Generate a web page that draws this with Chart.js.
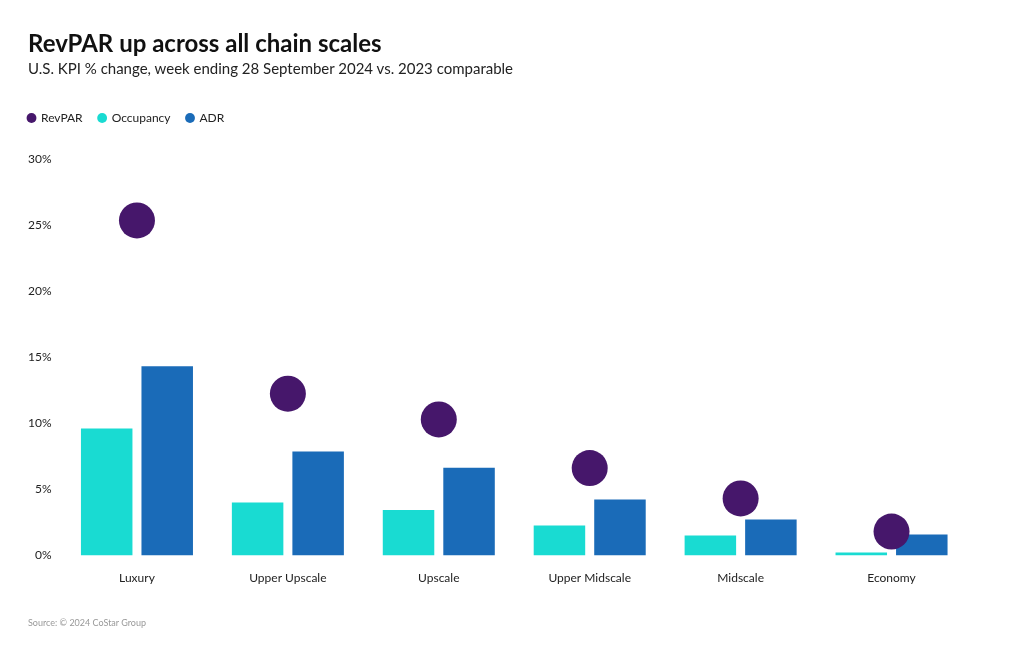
<!DOCTYPE html>
<html>
<head>
<meta charset="utf-8">
<script src="https://cdn.jsdelivr.net/npm/chart.js@4"></script>
<style>
  body { margin: 0; background: #fff; font-family: "Lato", "Noto Sans", sans-serif; }
  #wrap { position: relative; width: 1020px; height: 650px; }
  #title { position: absolute; left: 28px; top: 28px; margin: 0; font-size: 24px; font-weight: 700; color: #111; }
  #subtitle { position: absolute; left: 28px; top: 59px; margin: 0; font-size: 15px; color: #222; }
  #source { position: absolute; left: 28px; top: 617px; font-size: 9px; color: #999; }
  canvas { position: absolute; left: 0; top: 0; }
</style>
</head>
<body>
<div id="wrap">
  <canvas id="chart" width="1020" height="650"></canvas>
  <h1 id="title">RevPAR up across all chain scales</h1>
  <p id="subtitle">U.S. KPI % change, week ending 28 September 2024 vs. 2023 comparable</p>
  <div id="source">Source: © 2024 CoStar Group</div>
</div>
<script>
// chart data
const categories = ["Luxury", "Upper Upscale", "Upscale", "Upper Midscale", "Midscale", "Economy"];
const revpar = [25.35, 12.25, 10.3, 6.62, 4.32, 1.82];
const occupancy = [9.62, 4.02, 3.44, 2.27, 1.52, 0.23];
const adr = [14.32, 7.88, 6.65, 4.24, 2.73, 1.59];
const yTicks = [0, 5, 10, 15, 20, 25, 30];

const FONT = "'Lato', 'Noto Sans', sans-serif";

// push the plot down a bit below the legend
const legendGap = {
  id: "legendGap",
  beforeInit(chart) {
    const fit = chart.legend.fit;
    chart.legend.fit = function () {
      fit.bind(chart.legend)();
      this.height += 25;
    };
  }
};

new Chart(document.getElementById("chart"), {
  type: "bar",
  data: {
    labels: categories,
    datasets: [
      {
        type: "line",
        label: "RevPAR",
        data: revpar,
        showLine: false,
        pointStyle: "circle",
        pointRadius: 18,
        pointHoverRadius: 18,
        pointBorderWidth: 0,
        borderWidth: 0,
        backgroundColor: "#46176b",
        borderColor: "#46176b",
        order: 0,
      },
      {
        label: "Occupancy",
        data: occupancy,
        backgroundColor: "#19dbd2",
        pointStyle: "circle",
        borderWidth: 0,
        categoryPercentage: 0.802,
        barPercentage: 0.851,
        order: 1,
      },
      {
        label: "ADR",
        data: adr,
        backgroundColor: "#1a6bb8",
        pointStyle: "circle",
        borderWidth: 0,
        categoryPercentage: 0.802,
        barPercentage: 0.851,
        order: 1,
      },
    ],
  },
  options: {
    responsive: false,
    animation: false,
    layout: { padding: { left: 12, right: 53, top: 96, bottom: 50 } },
    plugins: {
      legend: {
        position: "top",
        align: "start",
        labels: {
          usePointStyle: true,
          boxWidth: 7,
          boxHeight: 7,
          padding: 16,
          color: "#222",
          font: { family: FONT, size: 12 },
        },
      },
      tooltip: { enabled: false },
    },
    scales: {
      x: {
        grid: { display: false, drawTicks: false },
        border: { display: false },
        ticks: { color: "#222", padding: 15, font: { family: FONT, size: 12 } },
      },
      y: {
        min: 0,
        max: 30,
        afterBuildTicks(axis) {
          axis.ticks = yTicks.map(v => ({ value: v }));
        },
        afterFit(axis) {
          axis.width = 49.5;
        },
        grid: { display: false, drawTicks: false },
        border: { display: false },
        ticks: {
          color: "#222",
          padding: 10,
          font: { family: FONT, size: 12 },
          callback: v => v + "%",
        },
      },
    },
  },
  plugins: [legendGap],
});
</script>
</body>
</html>
